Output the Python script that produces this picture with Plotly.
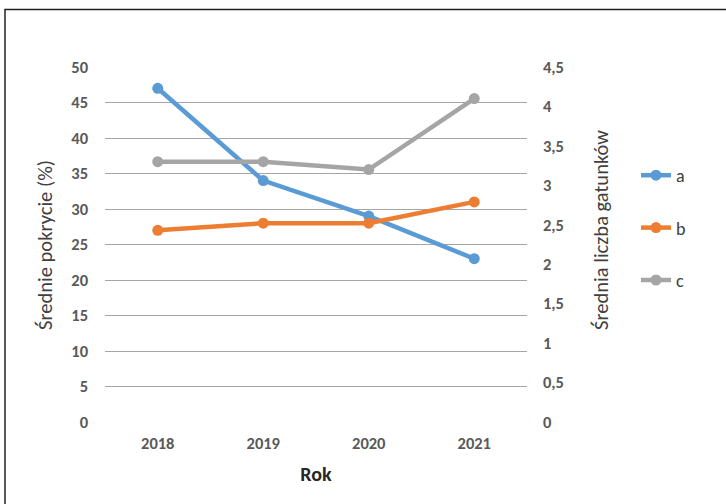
import plotly.graph_objects as go

years = ["2018", "2019", "2020", "2021"]
a_vals = [47, 34, 29, 23]
b_vals = [27, 28, 28, 31]
c_vals = [3.3, 3.3, 3.2, 4.1]
left_ticks = [0, 5, 10, 15, 20, 25, 30, 35, 40, 45, 50]
right_ticks = [0, 0.5, 1, 1.5, 2, 2.5, 3, 3.5, 4, 4.5]

FONT = "Carlito, Lato, sans-serif"
W, H = 726, 504
L, R, T, B = 105, 199, 67, 82
pw, ph = W - L - R, H - T - B

fig = go.Figure()
fig.add_trace(go.Scatter(x=years, y=a_vals, name="a", mode="lines+markers",
                         line=dict(color="#5B9BD5", width=4.5), marker=dict(size=11),
                         legendgroup="a"))
fig.add_trace(go.Scatter(x=years, y=b_vals, name="b", mode="lines+markers",
                         line=dict(color="#ED7D31", width=4.5), marker=dict(size=11),
                         legendgroup="b"))
fig.add_trace(go.Scatter(x=years, y=c_vals, name="c", mode="lines+markers",
                         line=dict(color="#A5A5A5", width=4.5), marker=dict(size=11),
                         yaxis="y2", legendgroup="c"))

def px_x(p):
    return (p - L) / pw

def px_y(p):
    return (H - B - p) / ph

TICKF = dict(size=16.5, color="#595959", weight="bold")

fig.update_layout(
    width=W, height=H,
    margin=dict(l=L, r=R, t=T, b=B),
    paper_bgcolor="white", plot_bgcolor="white",
    separators=",.",
    font=dict(family=FONT, color="#595959", size=13),
    xaxis=dict(type="category", range=[-0.5, 3.5], showgrid=False, zeroline=False,
               showline=False, ticks="", tickfont=TICKF,
               ticklabelstandoff=9,
               title=dict(text="<b>Rok</b>", font=dict(size=20, color="#262626"), standoff=15)),
    yaxis=dict(range=[0, 50], tickvals=left_ticks, showgrid=True, gridcolor="#A6A6A6",
               gridwidth=1, zeroline=False, showline=False, ticks="",
               tickfont=TICKF, ticklabelstandoff=16),
    yaxis2=dict(range=[0, 4.5], tickvals=right_ticks, overlaying="y", side="right",
                showgrid=False, zeroline=False, showline=False, ticks="",
                tickfont=TICKF, ticklabelstandoff=15),
    showlegend=True,
    legend=dict(x=px_x(636), y=px_y(157), xanchor="left", yanchor="top",
                font=dict(size=18, color="#404040"), tracegroupgap=26,
                bgcolor="rgba(0,0,0,0)"),
    shapes=[dict(type="rect", xref="paper", yref="paper",
                 x0=px_x(5), x1=px_x(740), y0=px_y(9.5), y1=px_y(520),
                 line=dict(color="#222222", width=1.5), layer="below")],
    annotations=[
        dict(text="Średnie pokrycie (%)", textangle=-90, xref="paper", yref="paper",
             x=px_x(45), y=px_y(245), showarrow=False, xanchor="center", yanchor="middle",
             font=dict(size=20.5, color="#404040")),
        dict(text="Średnia liczba gatunków", textangle=-90, xref="paper", yref="paper",
             x=px_x(601), y=px_y(230), showarrow=False, xanchor="center", yanchor="middle",
             font=dict(size=20.5, color="#404040")),
    ],
)

fig.write_html("out.html")
